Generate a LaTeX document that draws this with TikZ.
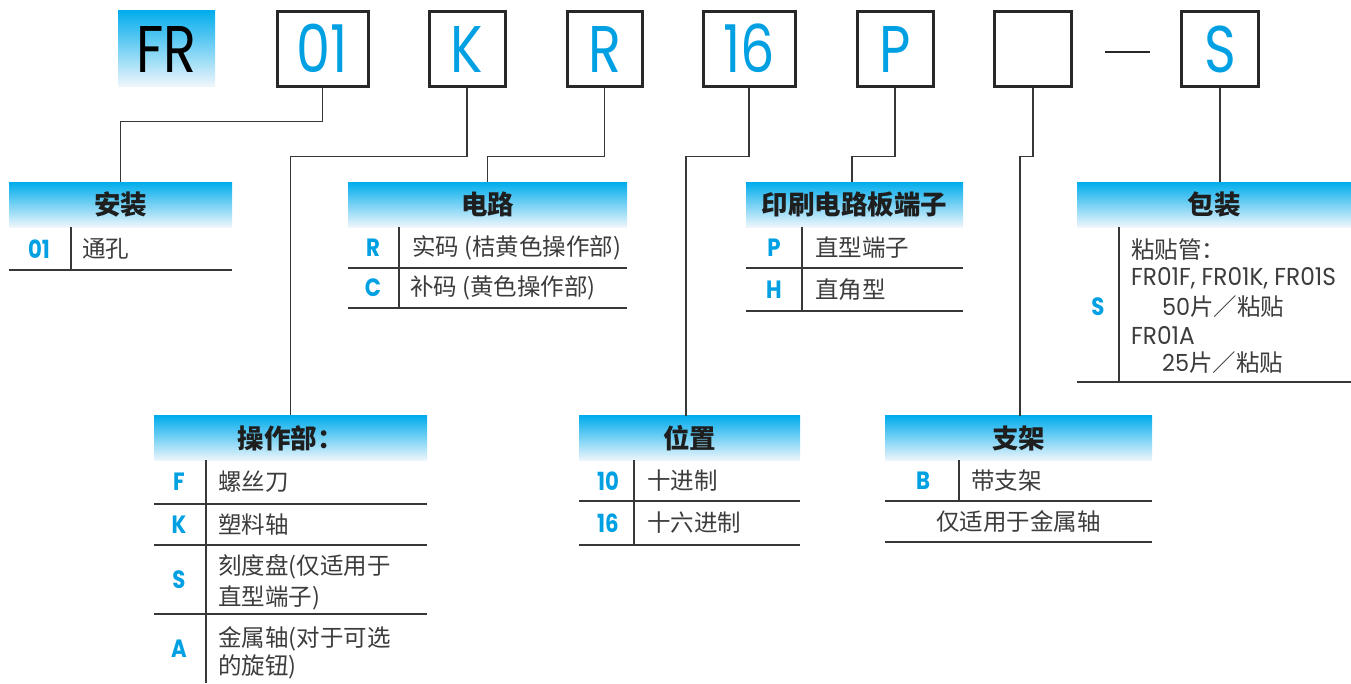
\documentclass[tikz,border=0pt]{standalone}
\usepackage{fontspec}
\setmainfont{Noto Sans CJK SC}
\newfontfamily\cjk{Noto Sans CJK SC}
\newfontfamily\biglat[FakeStretch=0.82]{Poppins}
\newfontfamily\lat[FakeStretch=0.95]{Poppins}
\newfontfamily\labf[FakeStretch=0.85]{Poppins}
\definecolor{cyanb}{RGB}{0,160,226}
\definecolor{hdrtop}{RGB}{0,172,236}
\definecolor{hdrbot}{RGB}{238,246,252}
\definecolor{boxc}{RGB}{40,40,40}
\definecolor{linec}{RGB}{55,55,55}
\definecolor{hdrtxt}{RGB}{30,30,30}
\definecolor{bodytxt}{RGB}{60,60,60}
\tikzset{
 bigbox/.style={draw=boxc, line width=3pt, minimum height=75pt, inner sep=0pt, text height=48pt, text depth=0pt, font=\biglat\fontsize{66}{70}\selectfont, text=cyanb},
 hdr/.style={top color=hdrtop, bottom color=hdrbot, draw=none, minimum height=45pt, inner sep=0pt, font=\cjk\bfseries\fontsize{26.5}{30}\selectfont, text=hdrtxt},
 lab/.style={font=\labf\bfseries\fontsize{25}{28}\selectfont, text=cyanb, inner sep=0pt},
 body/.style={font=\cjk\fontsize{23.5}{28}\selectfont, text=bodytxt, anchor=west, inner sep=0pt},
 bodyc/.style={font=\cjk\fontsize{23.5}{28}\selectfont, text=bodytxt, inner sep=0pt},
 latb/.style={font=\lat\fontsize{24.5}{28}\selectfont, text=bodytxt, anchor=west, inner sep=0pt},
 tline/.style={draw=linec, line width=2pt},
 conn/.style={draw=linec, line width=1.5pt},
}
\begin{document}
\begin{tikzpicture}[x=1pt,y=-1pt]
\useasboundingbox (0,0) rectangle (1351,683);
% ---------- code boxes ----------
\node[top color=hdrtop, bottom color=hdrbot, minimum width=97pt, minimum height=76pt, inner sep=0pt, text height=48pt, text depth=0pt, font=\biglat\fontsize{66}{70}\selectfont, text=black] (fr) at (166.5,48) {FR};
\node[bigbox, minimum width=91pt] (b01) at (322.5,48.5) {01};
\node[bigbox, minimum width=76pt] (bK) at (467,48.5) {K};
\node[bigbox, minimum width=75pt] (bR) at (604.5,48.5) {R};
\node[bigbox, minimum width=92pt] (b16) at (749,48.5) {16};
\node[bigbox, minimum width=76pt] (bP) at (895,48.5) {P};
\node[bigbox, minimum width=77pt] (bE) at (1033,48.5) {};
\coordinate (d1) at (1105,52);
\coordinate (d2) at (1150,52);
\draw[draw=boxc, line width=2.5pt] (d1) -- (d2);
\node[bigbox, minimum width=77pt] (bS) at (1220,48.5) {S};
% ---------- table headers ----------
\node[hdr, minimum width=223pt] (h1) at (120.5,204.5) {安装};
\node[hdr, minimum width=279pt] (h2) at (487.5,204.5) {电路};
\node[hdr, minimum width=217pt] (h3) at (854.5,204.5) {印刷电路板端子};
\node[hdr, minimum width=274pt] (h4) at (1214,204.5) {包装};
\node[hdr, minimum width=273pt] (h5) at (290.5,438) {操作部：};
\node[hdr, minimum width=221pt] (h6) at (689.5,438) {位置};
\node[hdr, minimum width=267pt] (h7) at (1018.5,438) {支架};
% ---------- connectors ----------
\coordinate (c4) at (1220,182);
\coordinate (c6) at (686,416);
\coordinate (c3) at (852,182);
\coordinate (c7) at (1020,416);
\draw[conn] (b01.south) -- ++(0,34) -| (h1.north);
\draw[conn] (bK.south) -- ++(0,69) -| (h5.north);
\draw[conn] (bR.south) -- ++(0,69) -| (h2.north);
\draw[conn] (b16.south) -- ++(0,69) -| (c6);
\draw[conn] (bP.south) -- ++(0,69) -| (c3);
\draw[conn] (bE.south) -- ++(0,69) -| (c7);
\draw[conn] (bS.south) -- (c4);
% ---------- table 安装 ----------
\draw[tline] (9,270) -- (232,270);
\draw[tline] (71,227) -- (71,270);
\node[lab] (l01) at (39,249) {01};
\node[body] (t01) at (82,248.5) {通孔};
% ---------- table 电路 ----------
\draw[tline] (348,268) -- (627,268);
\draw[tline] (348,308) -- (627,308);
\draw[tline] (399,227) -- (399,308);
\node[lab] (lR) at (373,247.5) {R};
\node[lab] (lC) at (373,288) {C};
\node[body] (tR) at (412,247.5) {实码 (桔黄色操作部)};
\node[body] (tC) at (410,288) {补码 (黄色操作部)};
% ---------- table 印刷电路板端子 ----------
\draw[tline] (746,268) -- (963,268);
\draw[tline] (746,311) -- (963,311);
\draw[tline] (802,227) -- (802,311);
\node[lab] (lP) at (774,247.5) {P};
\node[lab] (lH) at (774,289.5) {H};
\node[body] (tP) at (815,247.5) {直型端子};
\node[body] (tH) at (815,289.5) {直角型};
% ---------- table 包装 ----------
\draw[tline] (1077,382) -- (1351,382);
\draw[tline] (1119,227) -- (1119,382);
\node[lab] (lS4) at (1098,307) {S};
\node[body] (p1) at (1131,250) {粘贴管：};
\node[latb] (p2) at (1131,278) {FR01F, FR01K, FR01S};
\node[body] (p3) at (1162,307) {{\lat 50}片／粘贴};
\node[latb] (p4) at (1131,336) {FR01A};
\node[body] (p5) at (1162,363) {{\lat 25}片／粘贴};
% ---------- table 操作部 ----------
\draw[tline] (154,504) -- (427,504);
\draw[tline] (154,545) -- (427,545);
\draw[tline] (154,614) -- (427,614);
\draw[tline] (206,460) -- (206,683);
\node[lab] (lF) at (179,482) {F};
\node[lab] (lK) at (179,524.5) {K};
\node[lab] (lS5) at (179,579.5) {S};
\node[lab] (lA) at (179,648.5) {A};
\node[body] (tF) at (218,482) {螺丝刀};
\node[body] (tK) at (218,524.5) {塑料轴};
\node[body] (tS1) at (218,567) {刻度盘(仅适用于};
\node[body] (tS2) at (218,598) {直型端子)};
\node[body] (tA1) at (218,639) {金属轴(对于可选};
\node[body] (tA2) at (218,667) {的旋钮)};
% ---------- table 位置 ----------
\draw[tline] (579,501) -- (800,501);
\draw[tline] (579,545) -- (800,545);
\draw[tline] (634,460) -- (634,545);
\node[lab] (l10) at (608,481) {10};
\node[lab] (l16) at (608,523) {16};
\node[body] (t10) at (647,481) {十进制};
\node[body] (t16) at (647,523) {十六进制};
% ---------- table 支架 ----------
\draw[tline] (885,501) -- (1152,501);
\draw[tline] (885,542) -- (1152,542);
\draw[tline] (959,460) -- (959,501);
\node[lab] (lB) at (923,481) {B};
\node[body] (tB) at (971,481) {带支架};
\node[bodyc] (tB2) at (1018.5,521.5) {仅适用于金属轴};
\end{tikzpicture}
\end{document}
